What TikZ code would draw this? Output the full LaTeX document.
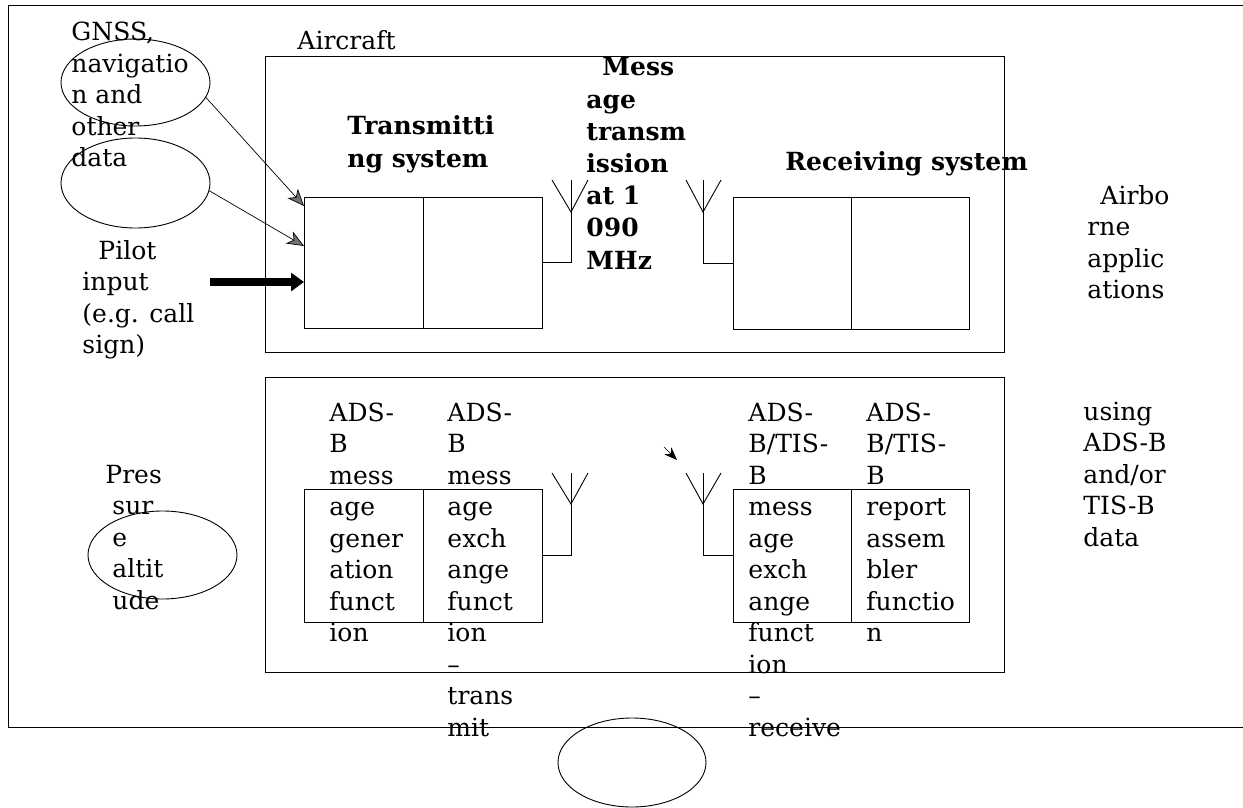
\documentclass[tikz,border=0pt]{standalone}
\usepackage{fontspec}
\setmainfont{DejaVu Serif}
\usetikzlibrary{shapes.geometric,arrows.meta}
\newcommand{\mlines}[1]{\begin{tabular}[t]{@{}l@{}}#1\end{tabular}}
\begin{document}
\begin{tikzpicture}[x=1pt,y=-1pt,line width=0.9pt,
  txt/.style={anchor=base west, inner sep=0pt, font=\fontsize{25}{31.5}\selectfont},
  btxt/.style={anchor=base west, inner sep=0pt, font=\fontsize{25}{32.2}\selectfont\bfseries},
  oval/.style={draw, ellipse, inner sep=0pt},
  blk/.style={draw, rectangle, inner sep=0pt},
  feed/.style={-{Stealth[length=17pt,width=14pt,inset=5pt,fill=black!55]}, line width=0.7pt},
  pilotarrow/.style={-{Triangle[length=13pt,width=18pt]}, line width=8pt},
  antline/.style={line width=0.9pt}
]
\useasboundingbox (0,0) rectangle (1243,808);

% outer frame (open at the right)
\draw (1243,5) -- (8,5) -- (8,727) -- (1243,727);

% boxes
\node[blk, minimum width=739pt, minimum height=296pt] (aircraft) at (634.5,204) {};
\node[blk, minimum width=238pt, minimum height=131pt] (tx) at (423,262.5) {};
\node[blk, minimum width=236pt, minimum height=132pt] (rx) at (851,263) {};
\draw (tx.north) -- (tx.south);
\draw (rx.north) -- (rx.south);

\node[blk, minimum width=739pt, minimum height=295pt] (lower) at (634.5,524.5) {};
\node[blk, minimum width=238pt, minimum height=133pt] (ltx) at (423,555.5) {};
\node[blk, minimum width=236pt, minimum height=133pt] (lrx) at (851,555.5) {};
\draw (ltx.north) -- (ltx.south);
\draw (lrx.north) -- (lrx.south);

% antennas
\coordinate (ant1) at (571,180);
\coordinate (ant2) at (703,180);
\coordinate (ant3) at (571,473);
\coordinate (ant4) at (703,473);
\draw[antline] (tx.east) -| (ant1);
\draw[antline] (552,180) -- (571,212) -- (588,180);
\draw[antline] (rx.west) -| (ant2);
\draw[antline] (686,180) -- (703,212) -- (721,180);
\draw[antline] (ltx.east) -| (ant3);
\draw[antline] (552,473) -- (571,504) -- (588,473);
\draw[antline] (lrx.west) -| (ant4);
\draw[antline] (686,473) -- (703,504) -- (721,473);

% ellipses
\node[oval, minimum width=149pt, minimum height=87pt] (e1) at (135.5,82.5) {};
\node[oval, minimum width=149pt, minimum height=90pt] (e2) at (135.5,183) {};
\node[oval, minimum width=149pt, minimum height=88pt] (e3) at (162.5,555) {};
\node[oval, minimum width=148pt, minimum height=89pt] (e4) at (632,762.5) {};

% input arrows
\coordinate (in1) at (304,206);
\coordinate (in2) at (304,246);
\coordinate (pilotstart) at (210,282);
\coordinate (in3) at (304,282);
\draw[feed] (e1.-12) -- (in1);
\draw[feed] (e2.-6) -- (in2);
\draw[pilotarrow] (pilotstart) -- (in3);

% stray arrowhead
\coordinate (s1) at (664,447);
\coordinate (s2) at (677,460);
\draw[-{Stealth[length=13pt,width=10pt]}, line width=0.5pt] (s1) -- (s2);

% texts
\node[txt] (gnss) at (71,41) {\mlines{GNSS,\\navigatio\\n and\\other\\data}};
\node[txt] (pilot) at (82,259) {\mlines{\hspace*{16pt}Pilot\\input\\(e.g. call\\sign)}};
\node[txt] (aircraftlbl) at (297,50) {Aircraft};
\node[btxt] (txlbl) at (347,135) {\mlines{Transmitti\\ng system}};
\node[btxt] (msglbl) at (586,76) {\mlines{\hspace*{16pt}Mess\\age\\transm\\ission\\at 1\\090\\MHz}};
\node[btxt] (rxlbl) at (785,170) {Receiving system};
\node[txt] (airborne) at (1087,204) {\mlines{\hspace*{13pt}Airbo\\rne\\applic\\ations}};

\node[txt] (press) at (105,483) {\mlines{Pres\\\hspace*{7pt}sur\\\hspace*{7pt}e\\\hspace*{7pt}altit\\\hspace*{7pt}ude}};
\node[txt] (gen) at (329,421) {\mlines{ADS-\\B\\mess\\age\\gener\\ation\\funct\\ion}};
\node[txt] (xmit) at (447,421) {\mlines{ADS-\\B\\mess\\age\\exch\\ange\\funct\\ion\\--\\trans\\mit}};
\node[txt] (recv) at (748,421) {\mlines{ADS-\\B/TIS-\\B\\mess\\age\\exch\\ange\\funct\\ion\\--\\receive}};
\node[txt] (assem) at (866,421) {\mlines{ADS-\\B/TIS-\\B\\report\\assem\\bler\\functio\\n}};
\node[txt] (using) at (1083,420) {\mlines{using\\ADS-B\\and/or\\TIS-B\\data}};
\end{tikzpicture}
\end{document}
